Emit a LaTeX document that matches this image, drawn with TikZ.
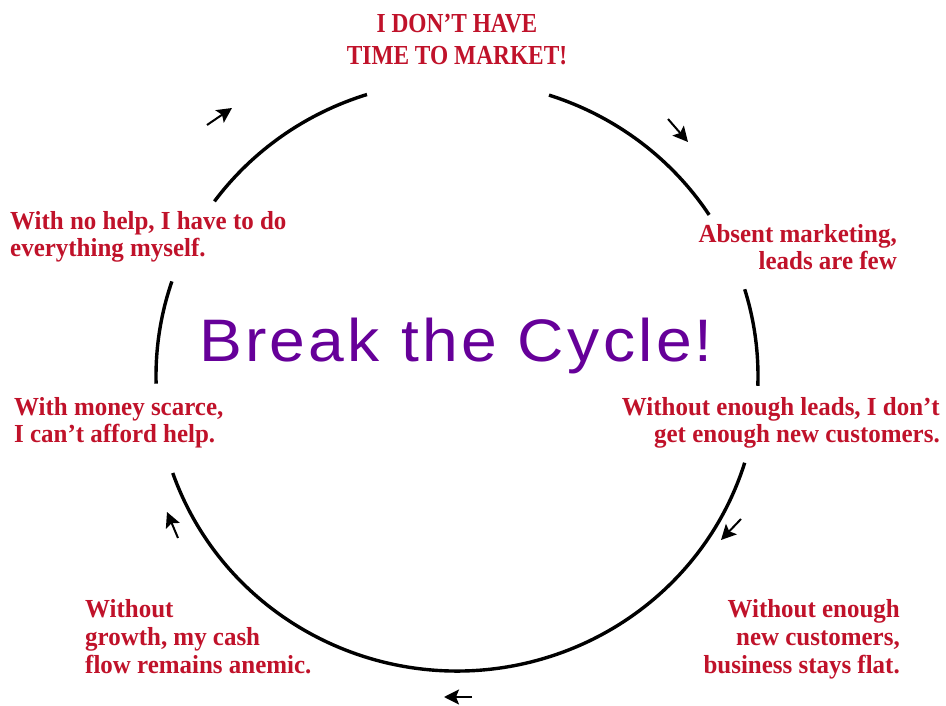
\documentclass[tikz,border=0pt]{standalone}
\usepackage{fontspec}
\setmainfont{Liberation Serif}[FakeStretch=0.96]
\newfontfamily\titlefont{Liberation Serif}[FakeStretch=0.85]
\newfontfamily\cyclefont{Liberation Sans}[FakeStretch=1.07, LetterSpace=5.5]
\usetikzlibrary{arrows.meta}
\definecolor{cyclered}{RGB}{192,18,42}
\definecolor{cyclepurple}{RGB}{102,0,153}

\begin{document}
\begin{tikzpicture}[x = 1pt, y = 1pt,
    every node/.style = { inner sep = 0pt },
    step text/.style = { text = cyclered, font = \fontsize{26}{27.8}\selectfont\bfseries },
    cycle line/.style = { line width = 3.4pt },
    flow arrow/.style = { line width = 2pt, -{Stealth[length = 15pt, width = 15pt, inset = 3pt]} }]
  \fill[white] (0,0) rectangle (946,705);
  \useasboundingbox (0,0) rectangle (946,705);
  \coordinate (ctr) at (457,329);
  % the cycle, broken where the steps sit
  \foreach \a/\b in {107.4/143.7, 161.3/181.5, 199.2/342.9, -1.9/17.1, 33.1/72.2}
    \draw[cycle line] (ctr) ++(\a:301 and 295) arc[start angle = \a, end angle = \b, x radius = 301, y radius = 295];
  % little arrows round the outside
  \foreach \n/\s/\e in {1/{207,580}/{232,597}, 2/{668,586}/{688,563}, 3/{741,186}/{721,165},
                        4/{472,8}/{444,8}, 5/{178,167}/{167,193}} {
    \coordinate (tail\n) at (\s);
    \coordinate (tip\n) at (\e);
    \draw[flow arrow] (tail\n) -- (tip\n);
  }
  \node[step text, anchor = base, align = center,
        font = \fontsize{27.5}{32}\selectfont\titlefont\bfseries] (notime) at (457,640)
    { I DON’T HAVE \\ TIME TO MARKET! };
  \node[step text, anchor = base east, align = right] (absent) at (897,435)
    { Absent marketing, \\ leads are few };
  \node[step text, anchor = base east, align = right] (fewleads) at (940,262)
    { Without enough leads, I don’t \\ get enough new customers. };
  \node[step text, anchor = base east, align = right] (flat) at (900,32)
    { Without enough \\ new customers, \\ business stays flat. };
  \node[step text, anchor = base west, align = left] (anemic) at (85,32)
    { Without \\ growth, my cash \\ flow remains anemic. };
  \node[step text, anchor = base west, align = left] (scarce) at (14,262)
    { With money scarce, \\ I can’t afford help. };
  \node[step text, anchor = base west, align = left] (nohelp) at (10,448)
    { With no help, I have to do \\ everything myself. };
  \node[text = cyclepurple, anchor = base, font = \fontsize{60}{66}\selectfont\cyclefont] (breakit) at (456,343)
    { Break the Cycle! };
\end{tikzpicture}
\end{document}
